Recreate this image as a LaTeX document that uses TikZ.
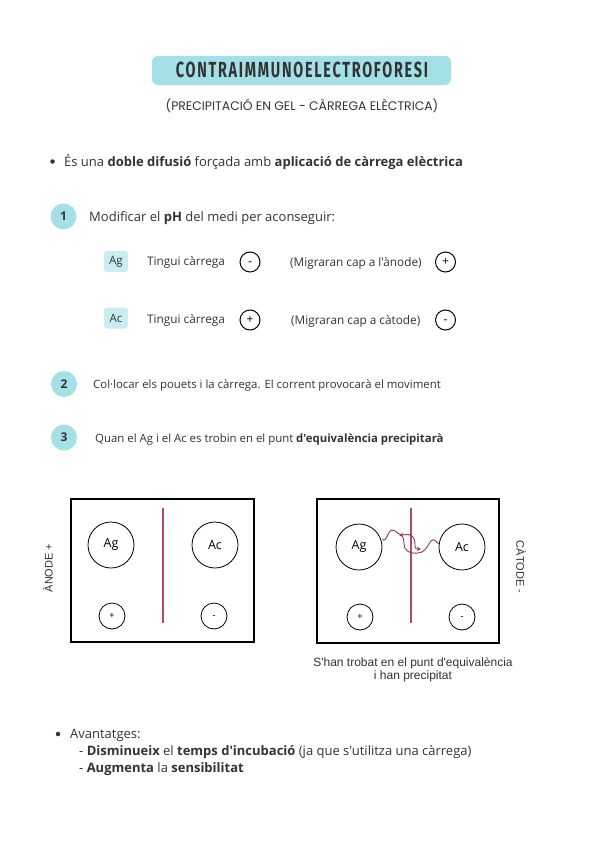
\documentclass[tikz,border=0pt]{standalone}
\usepackage{fontspec}
\setmainfont{Open Sans}[Ligatures=TeXOff]
\newfontfamily\titlefont[LetterSpace=12]{Fira Sans}
\newfontfamily\subfont{Poppins}
\newfontfamily\arialfont[Ligatures=TeXOff]{Liberation Sans}
\usetikzlibrary{arrows.meta}
\definecolor{cyanbox}{HTML}{A3E1E6}
\definecolor{lightcyan}{HTML}{C9EEF1}
\definecolor{redline}{HTML}{B04A6A}
\definecolor{wavy}{HTML}{8E3B52}
\definecolor{txt}{HTML}{333333}
\newcommand{\mymin}{\vphantom{+}-}
\begin{document}
\begin{tikzpicture}[x=1pt,y=-1pt,
  txtnode/.style={anchor=base west,inner sep=0pt,text=txt,font=\fontsize{13}{15}\selectfont},
  smalltxt/.style={anchor=base west,inner sep=0pt,text=txt,font=\fontsize{11.4}{13}\selectfont},
  midtxt/.style={anchor=base west,inner sep=0pt,text=txt,font=\fontsize{11.8}{13}\selectfont},
  numcirc/.style={circle,fill=cyanbox,minimum size=26pt,inner sep=0pt,font=\bfseries\fontsize{12}{14}\selectfont,text=txt},
  agbox/.style={fill=lightcyan,rounded corners=3pt,minimum width=24pt,minimum height=21pt,inner sep=0pt,font=\fontsize{11.5}{13}\selectfont,text=txt},
  chg/.style={circle,draw=black,line width=1pt,minimum size=20pt,inner sep=0pt,font=\fontsize{12}{12}\selectfont},
  well/.style={circle,draw=black,line width=0.8pt,minimum size=46pt,inner sep=0pt,font=\fontsize{12.5}{14}\selectfont},
  swell/.style={circle,draw=black,line width=0.8pt,minimum size=26pt,inner sep=0pt,font=\arialfont\fontsize{9}{10}\selectfont},
  gel/.style={draw=black,line width=1.8pt},
  bul/.style={circle,fill=txt,minimum size=4.5pt,inner sep=0pt},
  wav/.style={draw=wavy,line width=0.9pt,-{Stealth[length=4pt,width=4pt]}},
  sep/.style={draw=redline,line width=1.1pt}
]
\useasboundingbox (0,0) rectangle (600,848);
\fill[white] (0,0) rectangle (600,848);

% title
\node[fill=cyanbox,rounded corners=6pt,minimum width=299pt,minimum height=29pt,inner sep=0pt] (title) at (301.5,70.5) {};
\node[inner sep=0pt,text=txt] (titletxt) at (302,70) {\resizebox{252pt}{15.5pt}{\titlefont\bfseries CONTRAIMMUNOELECTROFORESI}};
\node[inner sep=0pt,text=txt,font=\subfont\fontsize{12.4}{14}\selectfont] (sub) at (302,106) {(PRECIPITACIÓ EN GEL - CÀRREGA ELÈCTRICA)};

% bullet 1
\node[bul] (b1) at (52.5,161.5) {};
\node[txtnode] (t1) at (64,166) {És una \textbf{doble difusió} forçada amb \textbf{aplicació de càrrega elèctrica}};

% step 1
\node[numcirc] (n1) at (63.5,216.5) {1};
\node[txtnode] (s1) at (89,221) {Modificar el \textbf{pH} del medi per aconseguir:};
\node[agbox] (ag) at (116,261.5) {Ag};
\node[midtxt] (tc1) at (147,265) {Tingui càrrega};
\node[chg] (c1) at (250,262) {\mymin};
\node[midtxt] (m1) at (290,266) {(Migraran cap a l'ànode)};
\node[chg] (c2) at (445.5,262) {+};
\node[agbox] (ac) at (116,318) {Ac};
\node[midtxt] (tc2) at (147,323) {Tingui càrrega};
\node[chg] (c3) at (250,320) {+};
\node[midtxt] (m2) at (291,324) {(Migraran cap a càtode)};
\node[chg] (c4) at (445.5,320) {\mymin};

% step 2
\node[numcirc] (n2) at (64,384) {2};
\node[smalltxt] (s2) at (93,388) {Col·locar els pouets i la càrrega. El corrent provocarà el moviment};
% step 3
\node[numcirc] (n3) at (64,437.5) {3};
\node[smalltxt] (s3) at (95,442) {Quan el Ag i el Ac es trobin en el punt \textbf{d'equivalència precipitarà}};

% left gel
\draw[gel] (71,499) rectangle (254,642);
\draw[sep] (163,508) -- (163,623);
\node[well] (lag) at (111,545) {Ag};
\node[well] (lac) at (215,545) {Ac};
\node[swell] (lp) at (112,616) {+};
\node[swell] (lm) at (214,616) {\mymin};
\node[rotate=90,inner sep=0pt,text=txt,font=\arialfont\fontsize{11}{13}\selectfont] (anode) at (48,568) {ÀNODE +};

% right gel
\draw[gel] (317,499) rectangle (499,643);
\draw[sep] (411,508) -- (411,623);
\node[well] (rag) at (359,547) {Ag};
\node[well] (rac) at (462,547) {Ac};
\node[swell] (rp) at (360,617) {+};
\node[swell] (rm) at (462,617) {\mymin};
\node[rotate=-90,inner sep=0pt,text=txt,font=\arialfont\fontsize{11}{13}\selectfont] (catode) at (521,567) {CÀTODE -};
\draw[wav] (rag.east) ++(0,-8) coordinate (wa) .. controls (386,544) and (388,530) .. (392,530)
  .. controls (396,530) and (398,535) .. (403,535)
  .. controls (412,533) and (415,537) .. (415,545)
  .. controls (415,550) and (417,549) .. (421,549);
\draw[wav] (rac.west) ++(0,-3) coordinate (wb) .. controls (436,541) and (434,538) .. (431,541)
  .. controls (427,546) and (426,552) .. (418,553)
  .. controls (409,554) and (404,550) .. (404,544)
  .. controls (404,538) and (402,535) .. (399,535);
\node[align=center,inner sep=0pt,text=txt,font=\arialfont\fontsize{12}{13}\selectfont] (cap) at (413,669.5) {S'han trobat en el punt d'equivalència\\i han precipitat};

% avantatges
\node[bul] (b2) at (58,734) {};
\node[txtnode] (av) at (70,738) {Avantatges:};
\node[txtnode] (av1) at (79,755) {- \textbf{Disminueix} el \textbf{temps d'incubació} (ja que s'utilitza una càrrega)};
\node[txtnode] (av2) at (79,772) {- \textbf{Augmenta} la \textbf{sensibilitat}};
\end{tikzpicture}
\end{document}
